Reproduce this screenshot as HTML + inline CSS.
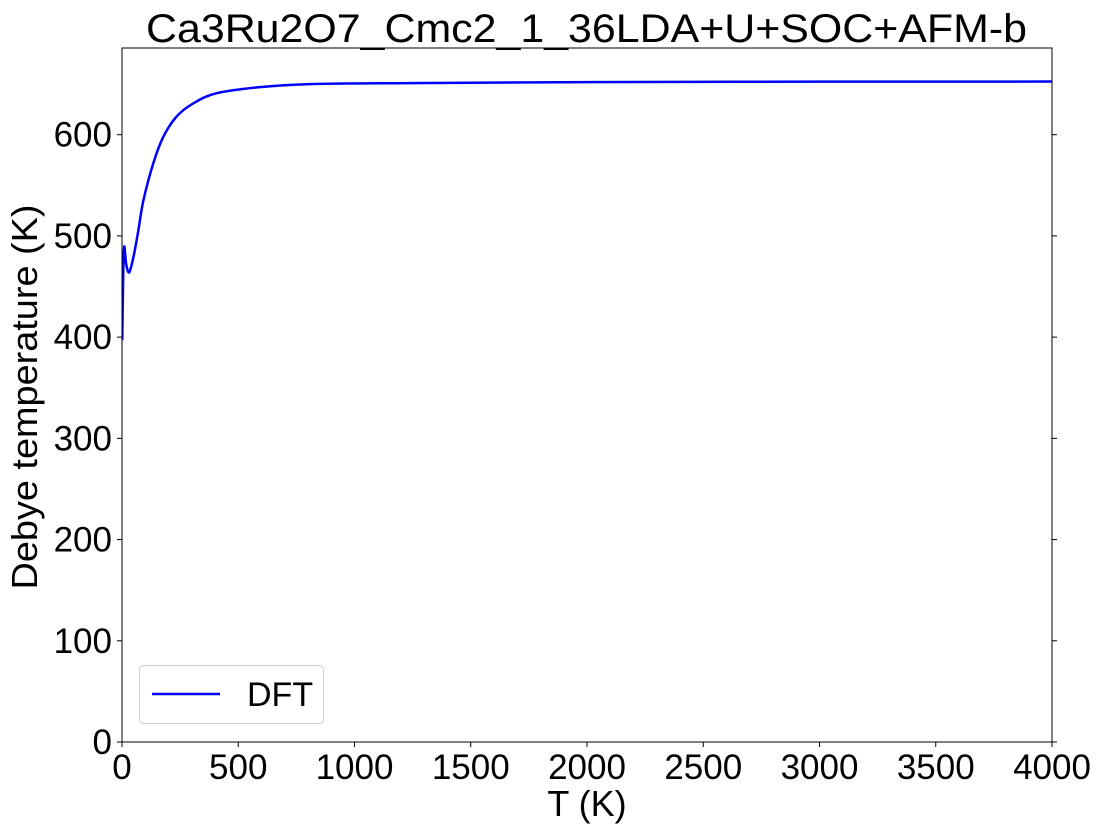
<!DOCTYPE html>
<html><head><meta charset="utf-8"><style>
body{margin:0;background:#fff;}
svg text{font-family:"Liberation Sans",sans-serif;fill:#000;}
</style></head><body>
<svg id="chart" width="1104" height="833" xmlns="http://www.w3.org/2000/svg">
<rect width="1104" height="833" fill="#fff"/>
<g id="plot"></g>
</svg>
<script>
const temps=[1,8,18,31,50,70,92,135,178,235,307,407,593,808,1240,2000,3000,4000];
const debye=[397,486,472,464,480,505,535,572,598,618,631,641,647,650,651,652,652.4,652.5];
const xTicks=[0,500,1000,1500,2000,2500,3000,3500,4000];
const yTicks=[0,100,200,300,400,500,600];
const X0=122,X1=1052,Y0=742,Y1=48;
const xs=v=>X0+(v/4000)*(X1-X0);
const ys=v=>Y0-v*(742-134.7)/600;
const NS="http://www.w3.org/2000/svg";
const g=document.getElementById('plot');
function mk(t,a,p){const e=document.createElementNS(NS,t);for(const k in a)e.setAttribute(k,a[k]);(p||g).appendChild(e);return e;}
// smooth curve (Catmull-Rom)
const P=temps.map((t,i)=>[xs(t),ys(debye[i])]);
let d='M'+P[0][0].toFixed(2)+','+P[0][1].toFixed(2);
for(let i=0;i<P.length-1;i++){
  const p0=P[Math.max(0,i-1)],p1=P[i],p2=P[i+1],p3=P[Math.min(P.length-1,i+2)];
  const c1=[p1[0]+(p2[0]-p0[0])/6,p1[1]+(p2[1]-p0[1])/6];
  const c2=[p2[0]-(p3[0]-p1[0])/6,p2[1]-(p3[1]-p1[1])/6];
  d+=' C'+c1.map(v=>v.toFixed(2)).join(',')+' '+c2.map(v=>v.toFixed(2)).join(',')+' '+p2.map(v=>v.toFixed(2)).join(',');
}
const cl=mk('clipPath',{id:'c'});mk('rect',{x:X0,y:Y1,width:X1-X0,height:Y0-Y1},cl);
const line=mk('path',{d:d,fill:'none',stroke:'#0000ff','stroke-width':2.5,'clip-path':'url(#c)','stroke-linejoin':'round'});


const fr=mk('rect',{x:X0,y:Y1,width:X1-X0,height:Y0-Y1,fill:'none',stroke:'#000','stroke-width':1});


xTicks.forEach(v=>{
  mk('line',{x1:xs(v),x2:xs(v),y1:Y0,y2:Y0+5,stroke:'#000'});
  const t=mk('text',{x:xs(v),y:Y0+37,'font-size':35,'text-anchor':'middle'});t.textContent=v;
  
  
});
yTicks.forEach(v=>{
  mk('line',{x1:X0-5,x2:X0,y1:ys(v),y2:ys(v),stroke:'#000'});
  mk('line',{x1:X1,x2:X1+5,y1:ys(v),y2:ys(v),stroke:'#000'});
  const t=mk('text',{x:X0-10,y:ys(v)+12,'font-size':35,'text-anchor':'end'});t.textContent=v;
  
  
});
const title=mk('text',{x:146,y:42,'font-size':40,textLength:881,lengthAdjust:'spacingAndGlyphs'});title.textContent='Ca3Ru2O7_Cmc2_1_36LDA+U+SOC+AFM-b';


const xl=mk('text',{x:587,y:816,'font-size':36,'text-anchor':'middle'});xl.textContent='T (K)';


const yl=mk('text',{x:0,y:0,'font-size':36,'text-anchor':'middle',textLength:385,lengthAdjust:'spacingAndGlyphs',transform:'translate(37,397) rotate(-90)'});yl.textContent='Debye temperature (K)';


const lg=mk('g',{});


mk('rect',{x:139.5,y:665.5,width:184,height:58,rx:4,fill:'#fff',stroke:'#ccc'},lg);
mk('line',{x1:152,x2:220,y1:694,y2:694,stroke:'#0000ff','stroke-width':2.5},lg);
const lt=mk('text',{x:247,y:706,'font-size':34},lg);lt.textContent='DFT';


</script>
</body></html>
